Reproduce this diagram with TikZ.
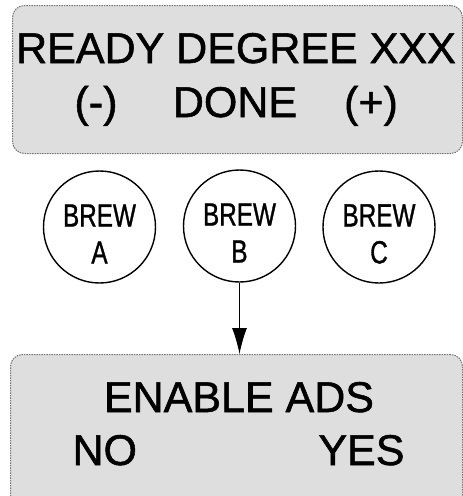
\documentclass[tikz,border=0pt]{standalone}
\usepackage{fontspec}
\setmainfont{Liberation Sans}
\newfontfamily\lcdfont{Liberation Sans}[FakeBold=1.2]
\usepackage{graphicx}
\usetikzlibrary{arrows.meta,positioning}

\newcommand{\cond}[1]{\scalebox{0.76}[1]{#1}}

\begin{document}
\begin{tikzpicture}[x=1pt,y=-1pt,line width=1pt,
    panel/.style={fill=black!13,draw=black!55,dash pattern=on 1.5pt off 1pt,rounded corners=12pt,inner sep=0pt,anchor=north west},
    lcd/.style={font=\lcdfont\fontsize{43}{43}\selectfont,inner sep=0pt,anchor=base},
    brew/.style={circle,draw,line width=1.4pt,minimum size=112pt,inner sep=0pt,align=center,font=\lcdfont\fontsize{32}{37}\selectfont}]
  \useasboundingbox (0,0) rectangle (463,496);
  \clip (0,0) rectangle (463,496);
  \node[panel,minimum width=450pt,minimum height=148pt] (ready) at (12,5) {};
  \node[panel,minimum width=452pt,minimum height=170pt] (ads) at (10,354) {};
  \node[lcd] (degree) at (236,63) {READY DEGREE XXX};
  \node[lcd] (minus) at (96,117) {(-)};
  \node[lcd] (done) at (235,117) {DONE};
  \node[lcd] (plus) at (371,117) {(+)};
  \node[brew] (brewA) at (99.5,227) {\rule{0pt}{36pt}\cond{BREW}\\\cond{A}};
  \node[brew] (brewB) at (239.5,226) {\rule{0pt}{36pt}\cond{BREW}\\\cond{B}};
  \node[brew] (brewC) at (379,227) {\rule{0pt}{36pt}\cond{BREW}\\\cond{C}};
  \draw[-{Latex[length=26pt,width=15pt]}] (brewB) -- (brewB |- ads.north);
  \node[lcd] (enable) at (239,412) {ENABLE ADS};
  \node[lcd,anchor=base west] (no) at (72,465) {NO};
  \node[lcd,anchor=base east] (yes) at (405,465) {YES};
\end{tikzpicture}
\end{document}
